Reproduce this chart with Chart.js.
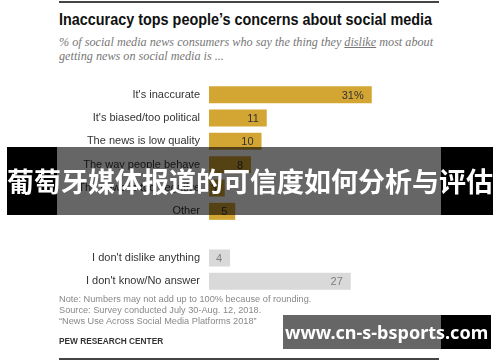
<!DOCTYPE html>
<html>
<head>
<meta charset="utf-8">
<script src="https://cdn.jsdelivr.net/npm/chart.js@4.4.0/dist/chart.umd.min.js"></script>
<style>
  html, body { margin: 0; padding: 0; background: #fff; }
  #page { position: relative; width: 500px; height: 362px; overflow: hidden; font-family: "Liberation Sans", Arial, sans-serif; }
  .rule { position: absolute; left: 59px; width: 380px; height: 2px; background: #444; }
  #title { position: absolute; left: 59px; top: 11px; font-family: "Liberation Sans", Arial, sans-serif; font-weight: bold; font-size: 16px; color: #111; white-space: nowrap; transform-origin: 0 0; }
  #subtitle { position: absolute; left: 59px; top: 35px; font-family: "Liberation Serif", serif; font-style: italic; font-size: 12.2px; line-height: 14px; color: #777; white-space: nowrap; }
  #chart-box { position: absolute; left: 0; top: 80px; width: 500px; height: 220px; }
  #notes { position: absolute; left: 59px; top: 294px; font-size: 9.2px; line-height: 11px; color: #888; white-space: nowrap; }
  #credit { position: absolute; left: 59px; top: 336px; font-size: 8.3px; font-weight: bold; color: #333; white-space: nowrap; }
  .band { position: absolute; top: 147px; height: 68px; }
  #banner-text { position: absolute; left: 7px; width: 486px; top: 147px; height: 68px; line-height: 68px; text-align: center; font-family: "Noto Sans CJK SC", sans-serif; font-weight: bold; font-size: 27px; color: #fff; white-space: nowrap; }
  .mark { position: absolute; top: 315px; height: 34px; }
  #mark-text { position: absolute; left: 285px; width: 200px; top: 315px; height: 34px; line-height: 34px; text-align: center; font-family: "Noto Sans", sans-serif; font-weight: bold; font-size: 18px; color: #fff; white-space: nowrap; }
</style>
</head>
<body>
<div id="page">
  <div class="rule" style="top:1px"></div>
  <div id="title">Inaccuracy tops people’s concerns about social media</div>
  <div id="subtitle">% of social media news consumers who say the thing they <u>dislike</u> most about<br>getting news on social media is ...</div>
  <div id="chart-box"><canvas id="dislike-chart"></canvas></div>
  <div id="notes">Note: Numbers may not add up to 100% because of rounding.<br>Source: Survey conducted July 30-Aug. 12, 2018.<br>“News Use Across Social Media Platforms 2018”</div>
  <div id="credit">PEW RESEARCH CENTER</div>
  <div class="rule" style="top:358px"></div>

  <div class="band" style="left:7px;width:50px;background:#000"></div>
  <div class="band" style="left:57px;width:384px;background:rgba(0,0,0,0.6)"></div>
  <div class="band" style="left:441px;width:52px;background:#000"></div>
  <div id="banner-text">葡萄牙媒体报道的可信度如何分析与评估</div>

  <div class="mark" style="left:283px;width:158px;background:#666"></div>
  <div class="mark" style="left:441px;width:50px;background:#000"></div>
  <div id="mark-text">www.cn-s-bsports.com</div>
</div>

<script>
const categories = [
    "It's inaccurate",
    "It's biased/too political",
    "The news is low quality",
    "The way people behave",
    "The news is too negative",
    "Other",
    "",
    "I don't dislike anything",
    "I don't know/No answer"
];
const shares = [31, 11, 10, 8, 3, 5, null, 4, 27];
const valueLabels = ["31%", "11", "10", "8", "3", "5", "", "4", "27"];
const complaintRows = 6;   // rows above the gap are actual complaints

const GOLD = '#d3a633';
const GREY = '#d9d9d9';
const LABEL_FONT = '11px "Liberation Sans", Arial, sans-serif';

const valueLabelPlugin = {
    id: 'valueLabels',
    afterDatasetsDraw(chart) {
        const ctx = chart.ctx;
        const meta = chart.getDatasetMeta(0);
        ctx.save();
        ctx.font = LABEL_FONT;
        ctx.textAlign = 'right';
        ctx.textBaseline = 'middle';
        meta.data.forEach((bar, i) => {
            if (shares[i] == null) return;
            ctx.fillStyle = i < complaintRows ? '#333' : '#7f7f7f';
            ctx.fillText(valueLabels[i], bar.x - 8, bar.y + 1);
        });
        ctx.restore();
    }
};

function buildDislikeChart() {
    const ctx = document.getElementById('dislike-chart').getContext('2d');
    return new Chart(ctx, {
        type: 'bar',
        data: {
            labels: categories,
            datasets: [{
                data: shares,
                backgroundColor: shares.map((v, i) => i < complaintRows ? GOLD : GREY),
                borderWidth: 0,
                categoryPercentage: 1,
                barPercentage: 0.73
            }]
        },
        options: {
            indexAxis: 'y',
            responsive: true,
            maintainAspectRatio: false,
            animation: false,
            layout: { padding: { top: 3, bottom: 7, left: 0, right: 60 } },
            plugins: { legend: { display: false }, tooltip: { enabled: false } },
            scales: {
                x: { display: false, min: 0, max: 44 },
                y: {
                    grid: { display: false, drawTicks: false },
                    border: { display: false },
                    ticks: { padding: 9, color: '#333', font: { family: '"Liberation Sans", Arial, sans-serif', size: 11 } },
                    afterFit(scale) {
                        scale.width = 209;
                        scale.paddingTop = 0;
                        scale.paddingBottom = 0;
                    }
                }
            }
        },
        plugins: [valueLabelPlugin]
    });
}

function fitTitle() {
    /* squeeze the bold title to the width of the original condensed face */
    const el = document.getElementById('title');
    const w = el.getBoundingClientRect().width;
    el.style.transform = 'scaleX(' + (373 / w) + ')';
}

document.addEventListener('DOMContentLoaded', () => {
    fitTitle();
    buildDislikeChart();
});
</script>
</body>
</html>
